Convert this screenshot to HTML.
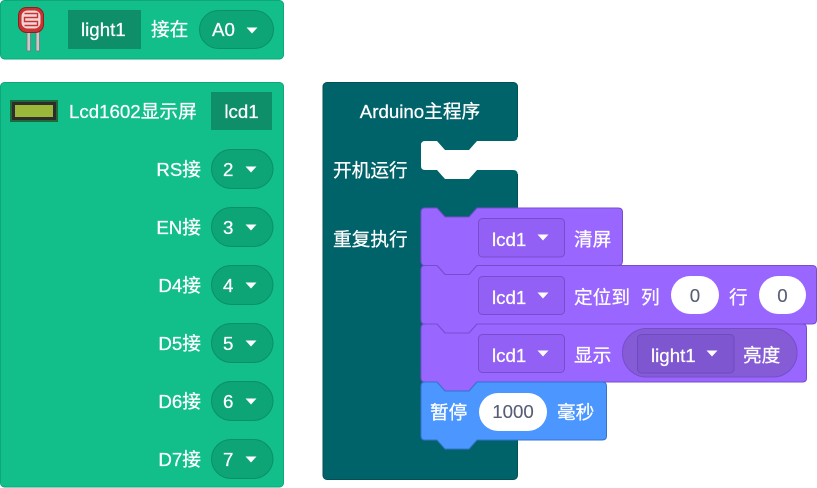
<!DOCTYPE html>
<html><head><meta charset="utf-8">
<style>
html,body{margin:0;padding:0;background:#fff;}
svg{display:block;}
text{font-family:"Liberation Sans","Noto Sans CJK SC",sans-serif;font-size:18.7px;fill:#fff;stroke:#fff;stroke-width:0.25px;}
.g{fill:#575E75;stroke:#575E75;stroke-width:0.1px;}
</style></head>
<body>
<svg width="817" height="488" viewBox="0 0 817 488" xmlns="http://www.w3.org/2000/svg">
<!-- Top green block -->
<rect x="0.5" y="0.5" width="283" height="58.5" rx="4" fill="#12BF8B" stroke="#0EA77A"/>
<!-- photoresistor icon -->
<rect x="27" y="29" width="3.5" height="22" fill="#c9c9c9" stroke="#777" stroke-width="0.8"/>
<rect x="36" y="29" width="3.5" height="22" fill="#c9c9c9" stroke="#777" stroke-width="0.8"/>
<rect x="18.5" y="7.5" width="25" height="25" rx="8" fill="#c83434" stroke="#8e1f1f"/>
<rect x="21.5" y="10.5" width="19" height="18" rx="6" fill="#f1d6d6"/>
<path d="M24.5 13.5 H37.5 V17.5 H24.5 V21.5 H37.5 V25.5 H24.5" fill="none" stroke="#c83434" stroke-width="1.4"/>
<rect x="68" y="10" width="73" height="39" fill="#0E8F69"/>
<text x="81" y="36">light1</text>
<text x="151" y="36">接在</text>
<rect x="199.5" y="10.5" width="74" height="38" rx="19" fill="#0DA476" stroke="#0B8F68"/>
<text x="212" y="36">A0</text>
<path d="M246.5 27.5 H257.5 L252 33.5 Z" fill="#fff"/>

<!-- Lcd green block -->
<rect x="0.5" y="82.5" width="283" height="404.5" rx="4" fill="#12BF8B" stroke="#0EA77A"/>
<rect x="10" y="100" width="48" height="22" fill="#1e6b3a"/>
<rect x="12" y="102" width="44" height="18" fill="#2d2d2d"/>
<rect x="15" y="105" width="38" height="12" fill="#9bb83a"/>
<text x="69" y="118">Lcd1602显示屏</text>
<rect x="211" y="92" width="61" height="38" fill="#0E8F69"/>
<text x="241.5" y="118" text-anchor="middle">lcd1</text>

<g>
<text x="201" y="176" text-anchor="end">RS接</text>
<rect x="211.5" y="149.5" width="61.5" height="39" rx="19.5" fill="#0DA476" stroke="#0B8F68"/>
<text x="223" y="176">2</text>
<path d="M245.5 166.5 H256.5 L251 172.5 Z" fill="#fff"/>

<text x="201" y="234" text-anchor="end">EN接</text>
<rect x="211.5" y="207.5" width="61.5" height="39" rx="19.5" fill="#0DA476" stroke="#0B8F68"/>
<text x="223" y="234">3</text>
<path d="M245.5 224.5 H256.5 L251 230.5 Z" fill="#fff"/>

<text x="201" y="292" text-anchor="end">D4接</text>
<rect x="211.5" y="265.5" width="61.5" height="39" rx="19.5" fill="#0DA476" stroke="#0B8F68"/>
<text x="223" y="292">4</text>
<path d="M245.5 282.5 H256.5 L251 288.5 Z" fill="#fff"/>

<text x="201" y="350" text-anchor="end">D5接</text>
<rect x="211.5" y="323.5" width="61.5" height="39" rx="19.5" fill="#0DA476" stroke="#0B8F68"/>
<text x="223" y="350">5</text>
<path d="M245.5 340.5 H256.5 L251 346.5 Z" fill="#fff"/>

<text x="201" y="408" text-anchor="end">D6接</text>
<rect x="211.5" y="381.5" width="61.5" height="39" rx="19.5" fill="#0DA476" stroke="#0B8F68"/>
<text x="223" y="408">6</text>
<path d="M245.5 398.5 H256.5 L251 404.5 Z" fill="#fff"/>

<text x="201" y="466" text-anchor="end">D7接</text>
<rect x="211.5" y="439.5" width="61.5" height="39" rx="19.5" fill="#0DA476" stroke="#0B8F68"/>
<text x="223" y="466">7</text>
<path d="M245.5 456.5 H256.5 L251 462.5 Z" fill="#fff"/>
</g>

<!-- Arduino main block (teal) -->
<rect x="323" y="82.5" width="194.5" height="397" rx="4" fill="#01636A" stroke="#015257"/>
<path d="M477 141 H513 Q517.5 141 517.5 137 H521 V174 H517.5 Q517.5 170 513 170 H477 L469 179 H445 L437 170 H425 Q421 170 421 166 V145 Q421 141 425 141 H437 L445 150 H469 Z" fill="#fff"/>
<text x="420" y="118" text-anchor="middle">Arduino主程序</text>
<text x="333" y="177">开机运行</text>
<text x="333" y="246">重复执行</text>

<!-- purple block 1 -->
<path d="M421 212 Q421 208 425 208 H437 L445 217 H469 L477 208 H618 Q622.5 208 622.5 212 V261 Q622.5 265.5 618 265.5 H477 L469 274.5 H445 L437 265.5 H425 Q421 265.5 421 261 Z" fill="#9966FF" stroke="#774DCB"/>
<rect x="478.5" y="218.5" width="86" height="38.5" rx="4" fill="#9360F5" stroke="#774DCB"/>
<text x="492" y="246">lcd1</text>
<path d="M537.5 234.5 H548.5 L543 240.5 Z" fill="#fff"/>
<text x="574" y="246">清屏</text>

<!-- purple block 2 -->
<path d="M421 269.5 Q421 265.5 425 265.5 H437 L445 274.5 H469 L477 265.5 H812 Q816.5 265.5 816.5 269.5 V320 Q816.5 324 812 324 H477 L469 333 H445 L437 324 H425 Q421 324 421 320 Z" fill="#9966FF" stroke="#774DCB"/>
<rect x="478.5" y="276.5" width="86" height="38" rx="4" fill="#9360F5" stroke="#774DCB"/>
<text x="492" y="304">lcd1</text>
<path d="M537.5 292.5 H548.5 L543 298.5 Z" fill="#fff"/>
<text x="574" y="304">定位到</text>
<text x="641" y="304">列</text>
<rect x="671" y="276" width="48" height="38" rx="19" fill="#fff"/>
<text x="695" y="302" text-anchor="middle" class="g">0</text>
<text x="729" y="304">行</text>
<rect x="759" y="276" width="47" height="38" rx="19" fill="#fff"/>
<text x="782.5" y="302" text-anchor="middle" class="g">0</text>

<!-- purple block 3 -->
<path d="M421 328 Q421 324 425 324 H437 L445 333 H469 L477 324 H802.5 Q806.5 324 806.5 328 V378 Q806.5 382 802.5 382 H477 L469 391 H445 L437 382 H425 Q421 382 421 378 Z" fill="#9966FF" stroke="#774DCB"/>
<rect x="478.5" y="334.5" width="86" height="38" rx="4" fill="#9360F5" stroke="#774DCB"/>
<text x="492" y="362">lcd1</text>
<path d="M537.5 350.5 H548.5 L543 356.5 Z" fill="#fff"/>
<text x="574" y="362">显示</text>
<rect x="622.5" y="328.5" width="174.5" height="48.5" rx="24" fill="#855CD6" stroke="#774DCB"/>
<rect x="637.5" y="334.5" width="96.5" height="38.5" rx="4" fill="#7E56D0" stroke="#7049C2"/>
<text x="651" y="362">light1</text>
<path d="M706.5 350.5 H717.5 L712 356.5 Z" fill="#fff"/>
<text x="743" y="362">亮度</text>

<!-- blue block -->
<path d="M421 386 Q421 382 425 382 H437 L445 391 H469 L477 382 H602 Q606.5 382 606.5 386 V436 Q606.5 440 602 440 H477 L469 449 H445 L437 440 H425 Q421 440 421 436 Z" fill="#4C97FF" stroke="#3373CC"/>
<text x="430" y="419">暂停</text>
<rect x="479" y="393" width="68" height="38" rx="19" fill="#fff"/>
<text x="513" y="418" text-anchor="middle" class="g">1000</text>
<text x="557" y="419">毫秒</text>
</svg>
</body></html>
